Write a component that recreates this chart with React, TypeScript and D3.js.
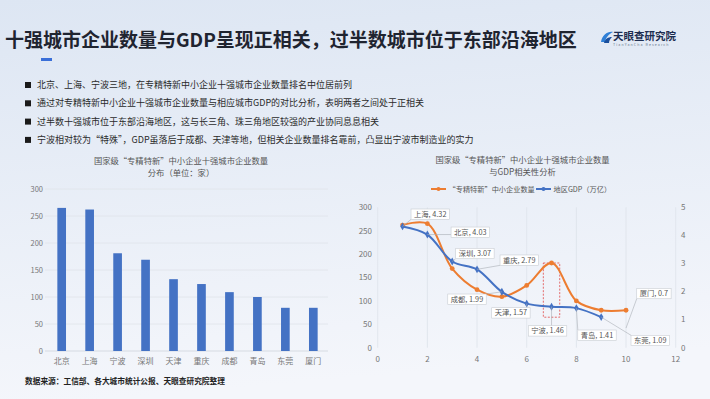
import React, { useEffect, useRef } from 'react';
import * as d3 from 'd3';

const pageTitle = '十强城市企业数量与GDP呈现正相关，过半数城市位于东部沿海地区';
const bullets = [
  '北京、上海、宁波三地，在专精特新中小企业十强城市企业数量排名中位居前列',
  '通过对专精特新中小企业十强城市企业数量与相应城市GDP的对比分析，表明两者之间处于正相关',
  '过半数十强城市位于东部沿海地区，这与长三角、珠三角地区较强的产业协同息息相关',
  '宁波相对较为“特殊”，GDP虽落后于成都、天津等地，但相关企业数量排名靠前，凸显出宁波市制造业的实力',
];

// bar chart
const cities = ['北京', '上海', '宁波', '深圳', '天津', '重庆', '成都', '青岛', '东莞', '厦门'];
const counts = [265, 262, 181, 169, 133, 124, 109, 100, 80, 80];
const barTicks = [0, 50, 100, 150, 200, 250, 300];

// scatter chart (cities ranked by GDP)
const gdpCities = ['上海', '北京', '深圳', '重庆', '成都', '天津', '宁波', '青岛', '东莞', '厦门'];
const gdpValues = [4.32, 4.03, 3.07, 2.79, 1.99, 1.57, 1.46, 1.41, 1.09, 0.7];
const xTicksR = [0, 2, 4, 6, 8, 10, 12];
const leftTicksR = [0, 50, 100, 150, 200, 250, 300];
const rightTicksR = [0, 1, 2, 3, 4, 5];
const seriesNames = ['“专精特新”中小企业数量', '地区GDP（万亿）'];

// label box offsets relative to the GDP point
const labelOffsets = [
  [8.5, -17.4], [23.7, -7.5], [3.5, -13.2], [23, -14.4], [-54.1, 2.2],
  [-35, 4.1], [-23.2, 19], [1.4, 21.9], [29.8, 18.2], [10.7, -39.7],
];

const ORANGE = '#ed7d31';
const BLUE = '#4472c4';
const FONT = '"Noto Sans CJK SC", "Noto Sans", sans-serif';

function App() {
  const svgRef = useRef<SVGSVGElement>(null);

  useEffect(() => {
    const svg = d3.select(svgRef.current);
    svg.selectAll('*').remove();
    svg.attr('font-family', FONT);

    const defs = svg.append('defs');
    const grad = defs.append('linearGradient').attr('id', 'bg').attr('x1', 0).attr('y1', 0).attr('x2', 0.15).attr('y2', 1);
    grad.append('stop').attr('offset', 0).attr('stop-color', '#dde6f3');
    grad.append('stop').attr('offset', 1).attr('stop-color', '#f4f6fb');
    svg.append('rect').attr('width', 710).attr('height', 399).attr('fill', 'url(#bg)');

    // header
    svg.append('text').attr('x', 5).attr('y', 47).attr('font-size', 19).attr('font-weight', 700)
      .attr('fill', '#1f2430').text(pageTitle);
    svg.append('rect').attr('x', 41).attr('y', 58).attr('width', 11).attr('height', 3).attr('fill', '#3a6fd8');

    // logo
    const logo = svg.append('g').attr('transform', 'translate(600,30)');
    logo.append('path').attr('d', 'M1,12 C2,5 8,1 13,2 C9,4 6,7 5,12 Z').attr('fill', '#2f7fd6');
    logo.append('path').attr('d', 'M4,13 C5,9 8,7 12,7 C10,9 9,11 9,13 Z').attr('fill', '#1b4f9c');
    logo.append('text').attr('x', 13).attr('y', 10).attr('font-size', 10.5).attr('font-weight', 700)
      .attr('fill', '#1d2d50').text('天眼查研究院');
    logo.append('text').attr('x', 13).attr('y', 16).attr('font-size', 3.6).attr('letter-spacing', 1.1)
      .attr('fill', '#6b7a90').text('TianYanCha Research');

    // bullets
    bullets.forEach((b, i) => {
      const y = 85 + i * 18.3;
      svg.append('rect').attr('x', 25).attr('y', y - 3).attr('width', 6).attr('height', 6).attr('fill', '#1a1a1a');
      svg.append('text').attr('x', 37).attr('y', y).attr('dy', '0.35em').attr('font-size', 9)
        .attr('fill', '#2a2a2a').text(b);
    });

    // ---------- left: bar chart ----------
    const bx = d3.scaleBand().domain(cities).range([47.7, 327.3]).paddingInner(0.69).paddingOuter(0.345);
    const by = d3.scaleLinear().domain([0, 300]).range([351, 189]);

    const lt = svg.append('g').attr('font-size', 8.3).attr('fill', '#555').attr('text-anchor', 'middle');
    lt.append('text').attr('x', 181).attr('y', 161.5).attr('dy', '0.35em').text('国家级“专精特新”中小企业十强城市企业数量');
    lt.append('text').attr('x', 181).attr('y', 173).attr('dy', '0.35em').text('分布（单位：家）');

    barTicks.forEach(t => {
      svg.append('line').attr('x1', 45).attr('x2', 328).attr('y1', by(t)).attr('y2', by(t))
        .attr('stroke', t === 0 ? '#cfd4dc' : '#dfe3ea').attr('stroke-width', 0.8);
      svg.append('text').attr('x', 43).attr('y', by(t)).attr('dy', '0.35em').attr('text-anchor', 'end')
        .attr('font-size', 7.5).attr('fill', '#777').text(t);
    });

    svg.append('g').selectAll('rect').data(counts).join('rect')
      .attr('x', (d, i) => bx(cities[i])!)
      .attr('y', d => by(d))
      .attr('width', bx.bandwidth())
      .attr('height', d => by(0) - by(d))
      .attr('fill', BLUE);

    svg.append('g').selectAll('text').data(cities).join('text')
      .attr('x', d => bx(d)! + bx.bandwidth() / 2)
      .attr('y', 361).attr('dy', '0.35em').attr('text-anchor', 'middle')
      .attr('font-size', 8).attr('fill', '#777').text(d => d);

    svg.append('text').attr('x', 25).attr('y', 381).attr('dy', '0.35em').attr('font-size', 7.7)
      .attr('font-weight', 700).attr('fill', '#222').text('数据来源：工信部、各大城市统计公报、天眼查研究院整理');

    // ---------- right: scatter with smooth lines ----------
    const sx = d3.scaleLinear().domain([0, 12]).range([377.7, 675.7]);
    const syL = d3.scaleLinear().domain([0, 300]).range([347.7, 207.3]);
    const syR = d3.scaleLinear().domain([0, 5]).range([347.7, 207.3]);

    const rt = svg.append('g').attr('font-size', 8.3).attr('fill', '#555').attr('text-anchor', 'middle');
    rt.append('text').attr('x', 522.5).attr('y', 160.5).attr('dy', '0.35em').text('国家级“专精特新”中小企业十强城市企业数量');
    rt.append('text').attr('x', 522.5).attr('y', 172).attr('dy', '0.35em').text('与GDP相关性分析');

    // legend
    const legend = [
      { x: 431, color: ORANGE, name: seriesNames[0] },
      { x: 536, color: BLUE, name: seriesNames[1] },
    ];
    legend.forEach(l => {
      svg.append('line').attr('x1', l.x).attr('x2', l.x + 15).attr('y1', 189).attr('y2', 189)
        .attr('stroke', l.color).attr('stroke-width', 2);
      svg.append('circle').attr('cx', l.x + 7.5).attr('cy', 189).attr('r', 2).attr('fill', l.color);
      svg.append('text').attr('x', l.x + 17.5).attr('y', 189).attr('dy', '0.35em').attr('font-size', 7.2)
        .attr('fill', '#555').text(l.name);
    });

    xTicksR.forEach(t => {
      svg.append('line').attr('x1', sx(t)).attr('x2', sx(t)).attr('y1', 207.3).attr('y2', 347.7)
        .attr('stroke', '#dde2ea').attr('stroke-width', 0.8);
      svg.append('text').attr('x', sx(t)).attr('y', 359).attr('dy', '0.35em').attr('text-anchor', 'middle')
        .attr('font-size', 8).attr('fill', '#777').text(t);
    });
    leftTicksR.forEach(t => {
      svg.append('text').attr('x', 372).attr('y', syL(t)).attr('dy', '0.35em').attr('text-anchor', 'end')
        .attr('font-size', 8).attr('fill', '#777').text(t);
    });
    rightTicksR.forEach(t => {
      svg.append('text').attr('x', 681).attr('y', syR(t)).attr('dy', '0.35em')
        .attr('font-size', 8).attr('fill', '#777').text(t);
    });

    const countOf = (c: string) => counts[cities.indexOf(c)];
    const orangePts = gdpCities.map((c, i) => [sx(i + 1), syL(countOf(c))] as [number, number]);
    const bluePts = gdpValues.map((v, i) => [sx(i + 1), syR(v)] as [number, number]);

    // highlight around Ningbo
    const ni = gdpCities.indexOf('宁波');
    svg.append('rect')
      .attr('x', sx(ni + 1 - 0.33)).attr('y', syL(countOf('宁波')))
      .attr('width', sx(0.66) - sx(0))
      .attr('height', syR(gdpValues[ni]) + 10.5 - syL(countOf('宁波')))
      .attr('fill', 'none').attr('stroke', '#e04848').attr('stroke-width', 0.8).attr('stroke-dasharray', '2,1.5');

    const line = d3.line().curve(d3.curveCatmullRom.alpha(0.5));
    svg.append('path').attr('d', line(orangePts)).attr('fill', 'none').attr('stroke', ORANGE).attr('stroke-width', 2);
    svg.append('path').attr('d', line(bluePts.slice(0, 9))).attr('fill', 'none').attr('stroke', BLUE).attr('stroke-width', 2);

    svg.append('g').selectAll('circle').data(orangePts).join('circle')
      .attr('cx', d => d[0]).attr('cy', d => d[1]).attr('r', 2.4).attr('fill', ORANGE);
    svg.append('g').selectAll('path').data(bluePts.slice(0, 9)).join('path')
      .attr('transform', d => `translate(${d[0]},${d[1]})`)
      .attr('d', d3.symbol().type(d3.symbolDiamond).size(18)()).attr('fill', BLUE);

    // data labels with leader lines
    const lblG = svg.append('g');
    gdpCities.forEach((c, i) => {
      const [px, py] = bluePts[i];
      const bx0 = px + labelOffsets[i][0];
      const by0 = py + labelOffsets[i][1];
      const g = lblG.append('g');
      const rect = g.append('rect');
      const txt = g.append('text').attr('x', bx0 + 3).attr('y', by0 + 5.2).attr('dy', '0.35em')
        .attr('font-size', 7.3).attr('fill', '#555').text(`${c}, ${gdpValues[i]}`);
      const w = (txt.node() as SVGTextElement).getComputedTextLength() + 6;
      const h = 10.4;
      rect.attr('x', bx0).attr('y', by0).attr('width', w).attr('height', h)
        .attr('fill', '#fff').attr('stroke', '#c9cdd3').attr('stroke-width', 0.6);
      const ex = Math.max(bx0, Math.min(bx0 + w, px));
      const ey = Math.max(by0, Math.min(by0 + h, py));
      lblG.insert('line', ':first-child').attr('x1', px).attr('y1', py).attr('x2', ex).attr('y2', ey)
        .attr('stroke', '#a9aeb6').attr('stroke-width', 0.6);
    });
  }, []);

  return (
    <svg ref={svgRef} width={710} height={399}
      style={{ position: 'absolute', left: 0, top: 0, display: 'block' }} />
  );
}

export default App;
